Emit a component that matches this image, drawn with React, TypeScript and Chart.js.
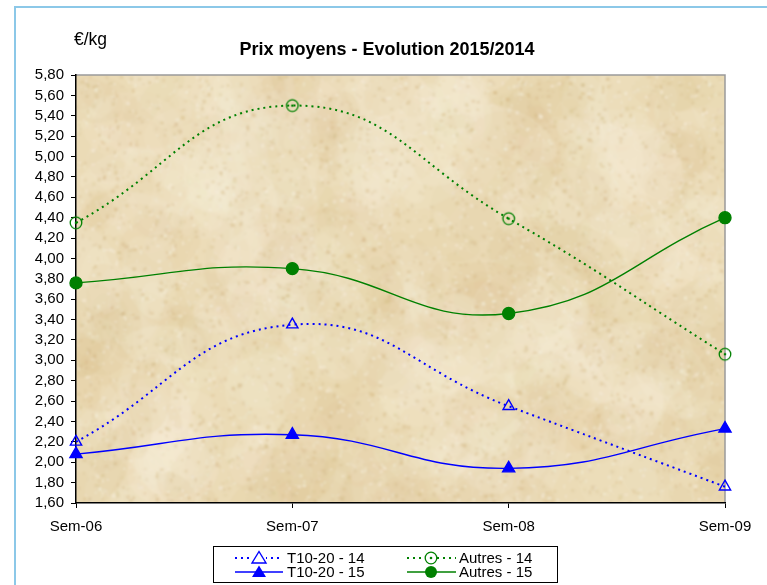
import React, { useEffect, useRef } from "react";
import { Chart, registerables } from "chart.js";
Chart.register(...registerables);

const categories = ["Sem-06", "Sem-07", "Sem-08", "Sem-09"];
const t1020_14 = [2.2, 3.35, 2.55, 1.76];
const t1020_15 = [2.08, 2.27, 1.94, 2.33];
const autres_14 = [4.35, 5.5, 4.39, 3.06];
const autres_15 = [3.76, 3.9, 3.46, 4.4];
const seriesNames = ["T10-20 - 14", "T10-20 - 15", "Autres - 14", "Autres - 15"];
const yMin = 1.6;
const yMax = 5.8;
const yStep = 0.2;
const titleText = "Prix moyens - Evolution 2015/2014";
const unitText = "€/kg";

const BLUE = "#0000ff";
const GREEN = "#008000";
const FONT = "'Liberation Sans', Arial, sans-serif";

function makeTexture(w: number, h: number) {
  const c = document.createElement("canvas");
  c.width = w;
  c.height = h;
  const g = c.getContext("2d")!;
  g.fillStyle = "#ebdbb6";
  g.fillRect(0, 0, w, h);
  let s = 987654321;
  const rnd = () => {
    s = (s * 1103515245 + 12345) & 0x7fffffff;
    return s / 0x7fffffff;
  };
  for (let i = 0; i < 600; i++) {
    const x = rnd() * w, y = rnd() * h, r = 10 + rnd() * 40;
    const light = rnd() < 0.55;
    g.fillStyle = light
      ? `rgba(245,236,213,${0.1 + rnd() * 0.15})`
      : `rgba(220,194,142,${0.06 + rnd() * 0.1})`;
    g.beginPath();
    g.ellipse(x, y, r, r * (0.4 + rnd() * 0.5), rnd() * Math.PI, 0, Math.PI * 2);
    g.fill();
  }
  for (let i = 0; i < 18000; i++) {
    const x = rnd() * w, y = rnd() * h;
    const v = rnd();
    g.fillStyle = v < 0.5
      ? `rgba(248,240,222,${0.08 + rnd() * 0.15})`
      : `rgba(214,186,134,${0.06 + rnd() * 0.12})`;
    g.fillRect(x, y, 1 + rnd() * 3, 1 + rnd() * 3);
  }
  const c2 = document.createElement("canvas");
  c2.width = w;
  c2.height = h;
  const g2 = c2.getContext("2d")!;
  g2.fillStyle = "#ebdbb6";
  g2.fillRect(0, 0, w, h);
  g2.filter = "blur(0.8px)";
  g2.drawImage(c, 0, 0);
  return c2;
}

function makeOpenDotCircle(color: string) {
  const c = document.createElement("canvas");
  c.width = 16;
  c.height = 16;
  const g = c.getContext("2d")!;
  g.strokeStyle = color;
  g.lineWidth = 1.3;
  g.beginPath();
  g.arc(8, 8, 5.8, 0, Math.PI * 2);
  g.stroke();
  g.fillStyle = color;
  g.beginPath();
  g.arc(8, 8, 1.3, 0, Math.PI * 2);
  g.fill();
  return c;
}

export default function App() {
  const ref = useRef<HTMLCanvasElement>(null);
  useEffect(() => {
    const texture = makeTexture(650, 430);
    const openCircle = makeOpenDotCircle(GREEN);

    const drawTri = (g: CanvasRenderingContext2D, x: number, y: number, filled: boolean) => {
      g.beginPath();
      g.moveTo(x, y - 6.5);
      g.lineTo(x + 7, y + 5);
      g.lineTo(x - 7, y + 5);
      g.closePath();
      if (filled) {
        g.fillStyle = BLUE;
        g.fill();
      } else {
        g.strokeStyle = BLUE;
        g.lineWidth = 1.4;
        g.stroke();
      }
    };

    const plugin = {
      id: "decor",
      beforeDraw(chart: any) {
        const { ctx, chartArea: a } = chart;
        ctx.save();
        ctx.drawImage(texture, a.left, a.top, a.right - a.left, a.bottom - a.top);
        ctx.strokeStyle = "#9a9a9a";
        ctx.lineWidth = 1.5;
        ctx.beginPath();
        ctx.moveTo(a.left, a.top);
        ctx.lineTo(a.right, a.top);
        ctx.lineTo(a.right, a.bottom);
        ctx.stroke();
        ctx.fillStyle = "#000";
        ctx.textBaseline = "alphabetic";
        ctx.textAlign = "center";
        ctx.font = `bold 18px ${FONT}`;
        ctx.fillText(titleText, 387, 55);
        ctx.textAlign = "left";
        ctx.font = `17.5px ${FONT}`;
        ctx.fillText(unitText, 74, 45);
        ctx.restore();
      },
      afterDraw(chart: any) {
        const ctx = chart.ctx as CanvasRenderingContext2D;
        ctx.save();
        ctx.fillStyle = "#fff";
        ctx.fillRect(213.5, 546.5, 344, 36);
        ctx.strokeStyle = "#000";
        ctx.lineWidth = 1;
        ctx.strokeRect(213.5, 546.5, 344, 36);
        const rows = [558, 572];
        const items = [
          { x1: 235, x2: 283, mx: 259, tx: 287, y: rows[0], color: BLUE, dash: true, marker: "otri", label: seriesNames[0] },
          { x1: 235, x2: 283, mx: 259, tx: 287, y: rows[1], color: BLUE, dash: false, marker: "ftri", label: seriesNames[1] },
          { x1: 407, x2: 456, mx: 431, tx: 459, y: rows[0], color: GREEN, dash: true, marker: "ocirc", label: seriesNames[2] },
          { x1: 407, x2: 456, mx: 431, tx: 459, y: rows[1], color: GREEN, dash: false, marker: "fcirc", label: seriesNames[3] },
        ];
        items.forEach((it) => {
          ctx.strokeStyle = it.color;
          ctx.lineWidth = it.dash ? 2 : 1.3;
          ctx.setLineDash(it.dash ? [2, 4] : []);
          ctx.beginPath();
          ctx.moveTo(it.x1, it.y);
          ctx.lineTo(it.x2, it.y);
          ctx.stroke();
          ctx.setLineDash([]);
          if (it.marker === "otri" || it.marker === "ftri") {
            if (it.marker === "otri") {
              ctx.fillStyle = "#fff";
              ctx.fillRect(it.mx - 7, it.y - 7, 14, 14);
            }
            drawTri(ctx, it.mx, it.y, it.marker === "ftri");
          } else if (it.marker === "ocirc") {
            ctx.fillStyle = "#fff";
            ctx.beginPath();
            ctx.arc(it.mx, it.y, 6, 0, Math.PI * 2);
            ctx.fill();
            ctx.drawImage(openCircle, it.mx - 8, it.y - 8);
          } else {
            ctx.fillStyle = it.color;
            ctx.beginPath();
            ctx.arc(it.mx, it.y, 6, 0, Math.PI * 2);
            ctx.fill();
          }
          ctx.fillStyle = "#000";
          ctx.font = `15px ${FONT}`;
          ctx.textAlign = "left";
          ctx.textBaseline = "middle";
          ctx.fillText(it.label, it.tx, it.y + 0.5);
        });
        ctx.restore();
      },
    };

    const chart = new Chart(ref.current!, {
      type: "line",
      data: {
        labels: categories,
        datasets: [
          {
            label: seriesNames[0],
            data: t1020_14,
            borderColor: BLUE,
            borderWidth: 2,
            borderDash: [2, 4],
            pointStyle: "triangle",
            pointRadius: 6.5,
            pointBorderWidth: 1.4,
            pointBackgroundColor: "rgba(0,0,0,0)",
            pointBorderColor: BLUE,
            tension: 0.45,
            clip: false,
          } as any,
          {
            label: seriesNames[1],
            data: t1020_15,
            borderColor: BLUE,
            borderWidth: 1.4,
            pointStyle: "triangle",
            pointRadius: 7,
            pointBackgroundColor: BLUE,
            pointBorderColor: BLUE,
            tension: 0.45,
            clip: false,
          } as any,
          {
            label: seriesNames[2],
            data: autres_14,
            borderColor: GREEN,
            borderWidth: 2,
            borderDash: [2, 4],
            pointStyle: openCircle,
            tension: 0.45,
            clip: false,
          } as any,
          {
            label: seriesNames[3],
            data: autres_15,
            borderColor: GREEN,
            borderWidth: 1.4,
            pointStyle: "circle",
            pointRadius: 6,
            pointBackgroundColor: GREEN,
            pointBorderColor: GREEN,
            tension: 0.45,
            clip: false,
          } as any,
        ],
      },
      options: {
        responsive: false,
        animation: false,
        layout: { padding: { top: 75, right: 42, left: 0, bottom: 0 } },
        plugins: {
          legend: { display: false },
          title: { display: false },
          tooltip: { enabled: false },
        },
        scales: {
          x: {
            offset: false,
            grid: { drawOnChartArea: false, color: "#000", tickLength: 5, lineWidth: 1 },
            border: { color: "#000", width: 1.5 },
            ticks: { color: "#000", font: { family: FONT, size: 15 }, padding: 10, maxRotation: 0, autoSkip: false },
            afterFit: (s: any) => { s.height = 82; },
          },
          y: {
            min: yMin,
            max: yMax,
            grid: { drawOnChartArea: false, color: "#000", tickLength: 5, lineWidth: 1 },
            border: { color: "#000", width: 1.5 },
            ticks: {
              stepSize: yStep,
              autoSkip: false,
              color: "#000",
              font: { family: FONT, size: 15 },
              padding: 7,
              callback: (v: any) => Number(v).toFixed(2).replace(".", ","),
            },
            afterFit: (s: any) => { s.width = 76; },
          },
        },
      },
      plugins: [plugin],
    });
    return () => chart.destroy();
  }, []);

  return (
    <div style={{ position: "absolute", left: 0, top: 0, width: 767, height: 585, background: "#fff", overflow: "hidden" }}>
      <div style={{ position: "absolute", left: 14, top: 6, width: 800, height: 700, borderLeft: "2px solid #8cc8e8", borderTop: "2px solid #8cc8e8" }} />
      <canvas ref={ref} width={767} height={585} style={{ position: "absolute", left: 0, top: 0, width: 767, height: 585 }} />
    </div>
  );
}
